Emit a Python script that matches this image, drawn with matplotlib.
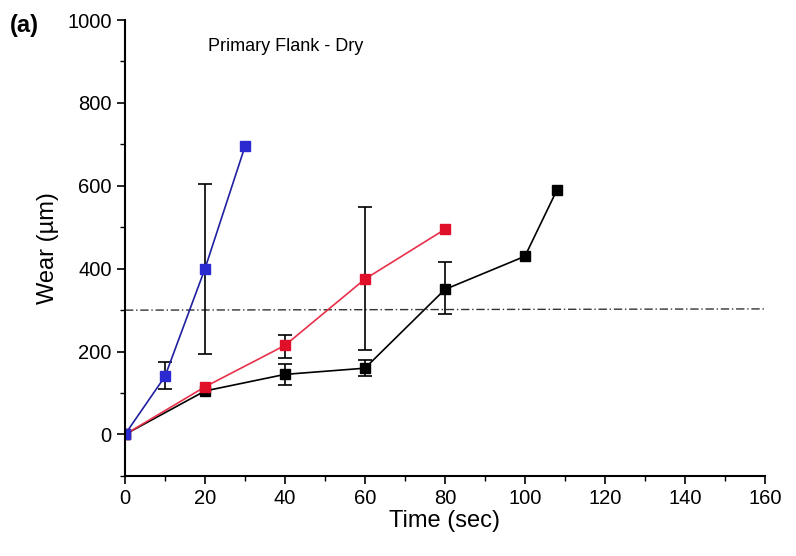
import numpy as np
import matplotlib
matplotlib.use('Agg')
import matplotlib.pyplot as plt
from matplotlib.ticker import MultipleLocator

plt.rcParams['font.family'] = ['Liberation Sans', 'DejaVu Sans']

# ===== DATA =====
blue_t = [0, 10, 20, 30]
blue_w = [0, 140, 400, 695]
blue_err_t = [10, 20]
blue_err_w = [140, 400]
blue_err_lo = [30, 205]
blue_err_hi = [35, 205]

red_t = [0, 20, 40, 60, 80]
red_w = [0, 115, 215, 375, 495]
red_err_t = [40, 60]
red_err_w = [215, 375]
red_err_lo = [30, 170]
red_err_hi = [25, 175]

black_t = [0, 20, 40, 60, 80, 100, 108]
black_w = [0, 105, 145, 160, 350, 430, 590]
black_err_t = [40, 60, 80]
black_err_w = [145, 160, 350]
black_err_lo = [25, 20, 60]
black_err_hi = [25, 20, 65]

limit_t = [0, 160]
limit_w = [300, 303]

# ===== FIGURE =====
fig = plt.figure(figsize=(7.96, 5.56), dpi=100)
ax = fig.add_axes([0.157, 0.144, 0.804, 0.82])

ax.plot(limit_t, limit_w, color='#333333', lw=1.0, ls=(0, (6, 2, 1, 2)))

ax.errorbar(blue_err_t, blue_err_w, yerr=[blue_err_lo, blue_err_hi], fmt='none',
			ecolor='black', elinewidth=1.2, capsize=5, capthick=1.2)
ax.errorbar(red_err_t, red_err_w, yerr=[red_err_lo, red_err_hi], fmt='none',
			ecolor='black', elinewidth=1.2, capsize=5, capthick=1.2)
ax.errorbar(black_err_t, black_err_w, yerr=[black_err_lo, black_err_hi], fmt='none',
			ecolor='black', elinewidth=1.2, capsize=5, capthick=1.2)

ax.plot(black_t, black_w, color='black', lw=1.2, marker='s', ms=6.5)
ax.plot(red_t, red_w, color='#e8304a', lw=1.2, marker='s', ms=6.5,
		mfc='#e0102a', mec='#e0102a')
ax.plot(blue_t, blue_w, color='#2020a0', lw=1.2, marker='s', ms=6.5,
		mfc='#2a2ad0', mec='#2a2ad0')

ax.set_xlim(0, 160)
ax.set_ylim(-100, 1000)
ax.xaxis.set_major_locator(MultipleLocator(20))
ax.xaxis.set_minor_locator(MultipleLocator(10))
ax.yaxis.set_major_locator(MultipleLocator(200))
ax.yaxis.set_minor_locator(MultipleLocator(100))

for side in ['top', 'right']:
	ax.spines[side].set_visible(False)
for side in ['left', 'bottom']:
	ax.spines[side].set_linewidth(1.5)

ax.tick_params(which='major', direction='out', length=6, width=1.2, labelsize=14.5)
ax.tick_params(which='minor', direction='out', length=3.5, width=1.0)

ax.set_xlabel('Time (sec)', fontsize=17, labelpad=1)
ax.set_ylabel('Wear (\u00b5m)', fontsize=17, labelpad=6)

ax.text(0.13, 0.96, 'Primary Flank - Dry', transform=ax.transAxes,
		fontsize=13, va='top', ha='left')
fig.text(0.012, 0.975, '(a)', fontsize=17, fontweight='bold', va='top', ha='left')

fig.savefig('out.png', dpi=100)
